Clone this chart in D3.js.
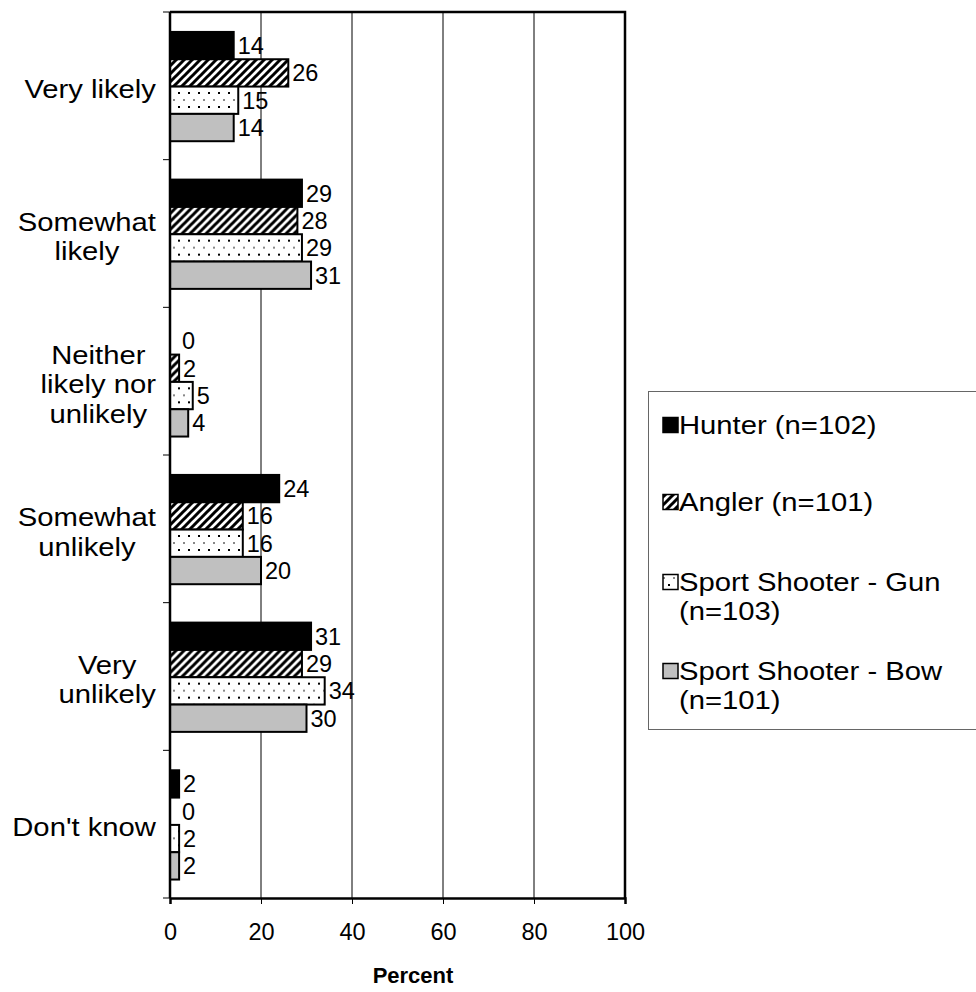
<!DOCTYPE html>
<html>
<head>
<meta charset="utf-8">
<script src="https://cdn.jsdelivr.net/npm/d3@7"></script>
<style>
  html, body { margin: 0; padding: 0; background: #fff; }
  svg { display: block; font-family: "Liberation Sans", Arial, sans-serif; }
</style>
</head>
<body>
<svg id="chart" width="976" height="992"></svg>
<script>
const categories = ["Very likely", "Somewhat likely", "Neither likely nor unlikely", "Somewhat unlikely", "Very unlikely", "Don't know"];
const categoryLines = [["Very likely"], ["Somewhat", "likely"], ["Neither", "likely nor", "unlikely"], ["Somewhat", "unlikely"], ["Very", "unlikely"], ["Don't know"]];
const seriesNames = ["Hunter (n=102)", "Angler (n=101)", "Sport Shooter - Gun (n=103)", "Sport Shooter - Bow (n=101)"];
const legendLines = [["Hunter (n=102)"], ["Angler (n=101)"], ["Sport Shooter - Gun", "(n=103)"], ["Sport Shooter - Bow", "(n=101)"]];
const hunter = [14, 29, 0, 24, 31, 2];
const angler = [26, 28, 2, 16, 29, 0];
const shooterGun = [15, 29, 5, 16, 34, 2];
const shooterBow = [14, 31, 4, 20, 30, 2];
const xTicks = [0, 20, 40, 60, 80, 100];
const xTitle = "Percent";

(function () {
const seriesValues = [hunter, angler, shooterGun, shooterBow];
const fills = ["#000000", "url(#hatch)", "url(#dots)", "#c0c0c0"];

const svg = d3.select("#chart");
const pLeft = 170, pRight = 625, pTop = 12, pBottom = 898;
const sx = 1.17;     // horizontal stretch of label text
const bigFont = 25;

// patterns
const defs = svg.append("defs");
const hatch = defs.append("pattern").attr("id", "hatch").attr("patternUnits", "userSpaceOnUse")
  .attr("width", 8).attr("height", 8);
hatch.append("rect").attr("width", 8).attr("height", 8).attr("fill", "#fff");
hatch.append("path").attr("d", "M-2,2 L2,-2 M0,8 L8,0 M6,10 L10,6")
  .attr("stroke", "#000").attr("stroke-width", 3);
const dots = defs.append("pattern").attr("id", "dots").attr("patternUnits", "userSpaceOnUse")
  .attr("width", 20).attr("height", 14);
dots.append("rect").attr("width", 20).attr("height", 14).attr("fill", "#fff");
dots.append("rect").attr("x", 3).attr("y", 3).attr("width", 2).attr("height", 2).attr("fill", "#888");
dots.append("rect").attr("x", 13).attr("y", 3).attr("width", 2).attr("height", 2).attr("fill", "#888");
dots.append("rect").attr("x", 8).attr("y", 10).attr("width", 2).attr("height", 2).attr("fill", "#000");
dots.append("rect").attr("x", 18).attr("y", 10).attr("width", 2).attr("height", 2).attr("fill", "#000");

const x = d3.scaleLinear().domain([0, 100]).range([pLeft, pRight]);
const y = d3.scaleBand().domain(categories).range([pTop, pBottom]).padding(0);
const bw = y.bandwidth();
const ys = d3.scaleBand().domain(d3.range(seriesNames.length)).range([bw * 0.135, bw * 0.875]).padding(0);

// gridlines
svg.append("g").selectAll("line").data(xTicks.filter(t => t > 0 && t < 100)).join("line")
  .attr("x1", d => x(d)).attr("x2", d => x(d)).attr("y1", pTop).attr("y2", pBottom)
  .attr("stroke", "#000").attr("stroke-width", 1);

// bars
const groups = svg.append("g").selectAll("g").data(categories).join("g")
  .attr("transform", d => `translate(0,${y(d)})`);
groups.each(function(cat, ci) {
  const g = d3.select(this);
  seriesValues.forEach((vals, si) => {
    const v = vals[ci];
    if (v > 0) {
      g.append("rect")
        .attr("x", x(0)).attr("y", ys(si))
        .attr("width", x(v) - x(0)).attr("height", ys.bandwidth())
        .attr("fill", fills[si]).attr("stroke", "#000").attr("stroke-width", 2);
    }
    g.append("text")
      .attr("x", x(v) + (v === 0 ? 12 : 4))
      .attr("y", ys(si) + ys.bandwidth() / 2)
      .attr("dy", "0.36em")
      .attr("font-size", 23.5)
      .attr("fill", "#000")
      .text(v);
  });
});

// plot frame
svg.append("path")
  .attr("d", `M${pLeft},${pTop} H${pRight} V${pBottom}`)
  .attr("fill", "none").attr("stroke", "#000").attr("stroke-width", 2.5);

// y axis
const yAxisTicks = d3.range(categories.length + 1).map(i => pTop + i * bw);
svg.append("g").selectAll("line").data(yAxisTicks).join("line")
  .attr("x1", pLeft - 7).attr("x2", pLeft).attr("y1", d => d).attr("y2", d => d)
  .attr("stroke", "#000").attr("stroke-width", 1);
svg.append("line").attr("x1", pLeft).attr("x2", pLeft).attr("y1", pTop).attr("y2", pBottom)
  .attr("stroke", "#000").attr("stroke-width", 2.5);

// x axis
const xAxis = d3.axisBottom(x).tickValues(xTicks).tickSize(6).tickPadding(19).tickFormat(d3.format("d"));
const xg = svg.append("g").attr("transform", `translate(0,${pBottom})`).call(xAxis);
xg.select(".domain").attr("stroke", "#000").attr("stroke-width", 2.5);
xg.selectAll(".tick line").attr("stroke", "#000").attr("stroke-width", 1);
xg.selectAll(".tick text").attr("font-size", 23.5).attr("font-family", '"Liberation Sans", Arial, sans-serif').attr("fill", "#000");

svg.append("text").attr("x", 413).attr("y", 983)
  .attr("text-anchor", "middle").attr("font-size", 22).attr("font-weight", "bold").text(xTitle);

// category labels
const lineH = 29.5;
const labelRight = 156;
categoryLines.forEach((lines, ci) => {
  const cy = y(categories[ci]) + bw / 2;
  const g = svg.append("g");
  const texts = lines.map((l, li) => g.append("text")
    .attr("dy", "0.36em").attr("font-size", bigFont).attr("text-anchor", "middle").text(l));
  const maxW = d3.max(texts, t => t.node().getComputedTextLength()) * sx;
  texts.forEach((t, li) => t.attr("transform",
    `translate(${labelRight - maxW / 2},${cy + 3 + (li - (lines.length - 1) / 2) * lineH}) scale(${sx},1)`));
});

// legend
svg.append("rect").attr("x", 648.5).attr("y", 391.5).attr("width", 340).attr("height", 338)
  .attr("fill", "#fff").attr("stroke", "#666").attr("stroke-width", 1);
const legendY = [425, 502, 582, 671];
legendLines.forEach((lines, si) => {
  const ly = legendY[si];
  svg.append("rect").attr("x", 663).attr("y", ly - 7.5).attr("width", 15).attr("height", 15)
    .attr("fill", fills[si]).attr("stroke", "#000").attr("stroke-width", 1.5);
  lines.forEach((l, li) => {
    svg.append("text").attr("transform", `translate(679,${ly + li * 29}) scale(${sx},1)`)
      .attr("dy", "0.36em").attr("font-size", bigFont).text(l);
  });
});
})();
</script>
</body>
</html>
